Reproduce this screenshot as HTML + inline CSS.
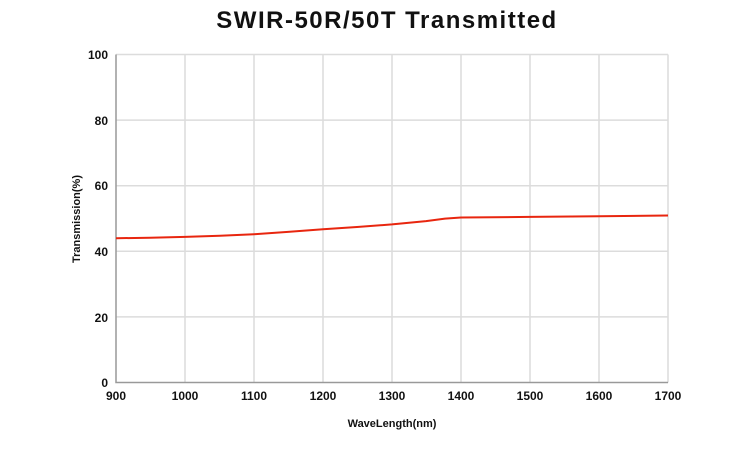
<!DOCTYPE html>
<html><head><meta charset="utf-8"><style>
body{margin:0;background:#fff;width:750px;height:450px;overflow:hidden}
text{font-family:"Liberation Sans",sans-serif;font-weight:bold;fill:#111}
</style></head><body>
<svg width="750" height="450" xmlns="http://www.w3.org/2000/svg">
<text x="387" y="28" font-size="24" text-anchor="middle" letter-spacing="1.5">SWIR-50R/50T Transmitted</text>
<g stroke="#dcdcdc" stroke-width="1.5">
<line x1="185" y1="54.5" x2="185" y2="382.5"/><line x1="254" y1="54.5" x2="254" y2="382.5"/>
<line x1="323" y1="54.5" x2="323" y2="382.5"/><line x1="392" y1="54.5" x2="392" y2="382.5"/>
<line x1="461" y1="54.5" x2="461" y2="382.5"/><line x1="530" y1="54.5" x2="530" y2="382.5"/>
<line x1="599" y1="54.5" x2="599" y2="382.5"/><line x1="668" y1="54.5" x2="668" y2="382.5"/>
<line x1="116" y1="120.1" x2="668" y2="120.1"/><line x1="116" y1="185.7" x2="668" y2="185.7"/>
<line x1="116" y1="251.3" x2="668" y2="251.3"/><line x1="116" y1="316.9" x2="668" y2="316.9"/>
<line x1="116" y1="54.5" x2="668" y2="54.5"/>
</g>
<polyline fill="none" stroke="#999" stroke-width="1.5" points="116,54.5 116,382.5 668,382.5"/>
<polyline fill="none" stroke="#e8260f" stroke-width="2" stroke-linejoin="round" points="116,238.2 150,237.8 185,236.9 220,235.8 254,234.2 288,231.9 323,229.3 357,227 392,224.4 426,221.1 445,218.6 461,217.5 530,216.9 599,216.2 668,215.5"/>
<g font-size="12" text-anchor="end">
<text x="108" y="59">100</text><text x="108" y="125">80</text><text x="108" y="190">60</text>
<text x="108" y="256">40</text><text x="108" y="322">20</text><text x="108" y="387">0</text>
</g>
<g font-size="12" text-anchor="middle">
<text x="116" y="400">900</text><text x="185" y="400">1000</text><text x="254" y="400">1100</text>
<text x="323" y="400">1200</text><text x="392" y="400">1300</text><text x="461" y="400">1400</text>
<text x="530" y="400">1500</text><text x="599" y="400">1600</text><text x="668" y="400">1700</text>
</g>
<text x="392" y="427" font-size="11" text-anchor="middle">WaveLength(nm)</text>
<text transform="translate(80,219) rotate(-90)" font-size="11" text-anchor="middle">Transmission(%)</text>
</svg>
</body></html>
